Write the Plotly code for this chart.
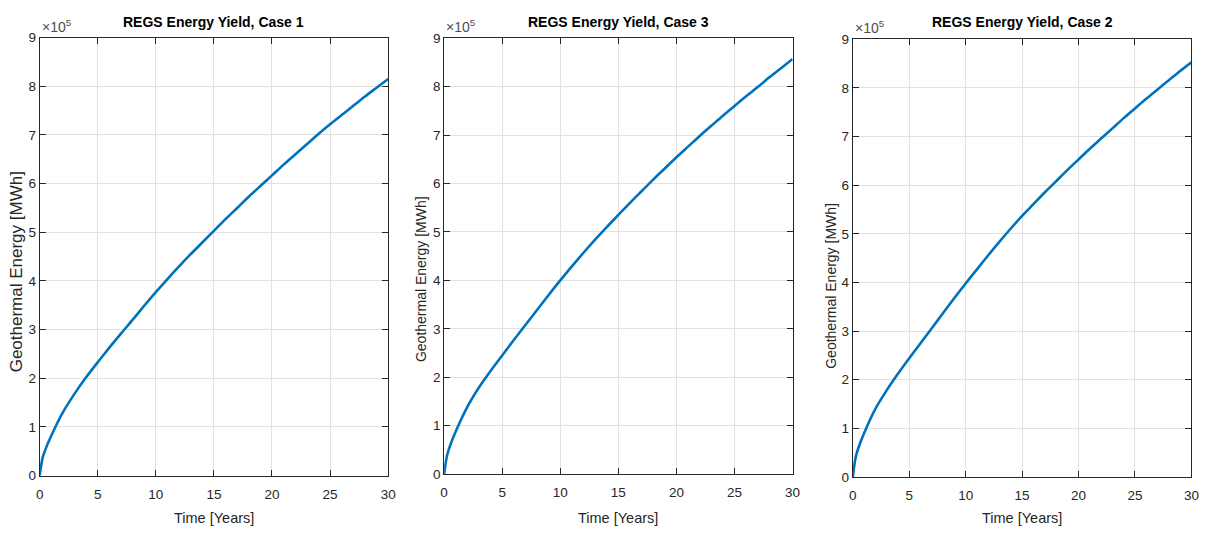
import plotly.graph_objects as go

# Time [years] and energy [x1e5 MWh]
t_years = [0, 0.25, 0.5, 1, 2, 3, 4, 5, 6, 7, 8, 9, 10, 11, 12, 13, 14, 15, 16, 17, 18, 19, 20,
           21, 22, 23, 24, 25, 26, 27, 28, 29, 30]
e_case1 = [0, 0.36, 0.54, 0.82, 1.30, 1.68, 2.02, 2.33, 2.63, 2.92, 3.20, 3.49, 3.77, 4.04, 4.30, 4.55,
           4.79, 5.03, 5.27, 5.50, 5.73, 5.95, 6.17, 6.39, 6.60, 6.81, 7.02, 7.22, 7.41, 7.60, 7.79, 7.97, 8.15]
e_case3 = [0, 0.38, 0.58, 0.88, 1.39, 1.79, 2.13, 2.45, 2.77, 3.08, 3.39, 3.70, 4.00, 4.29, 4.57, 4.84,
           5.10, 5.35, 5.60, 5.84, 6.08, 6.31, 6.54, 6.76, 6.98, 7.19, 7.40, 7.60, 7.80, 7.99, 8.19, 8.38, 8.57]
e_case2 = [0, 0.40, 0.60, 0.90, 1.40, 1.78, 2.12, 2.44, 2.75, 3.06, 3.37, 3.68, 3.98, 4.27, 4.56, 4.84,
           5.11, 5.37, 5.61, 5.85, 6.08, 6.31, 6.53, 6.75, 6.96, 7.17, 7.38, 7.58, 7.78, 7.97, 8.16, 8.35, 8.53]
SCALE = 1e5  # the axis shows x10^5

titles = ["REGS Energy Yield, Case 1", "REGS Energy Yield, Case 3", "REGS Energy Yield, Case 2"]
x_ticks = [0, 5, 10, 15, 20, 25, 30]
y_ticks = [0, 1, 2, 3, 4, 5, 6, 7, 8, 9]
y_tick_text = ["0", "1", "2", "3", "4", "5", "6", "7", "8", "9"]
x_title = "Time [Years]"
y_title = "Geothermal Energy [MWh]"

W, H = 1210, 542
# plot-area pixel boxes (left, right, top, bottom)
boxes = [(36, 388, 31.5, 482), (444.5, 796.5, 32, 480.5), (857.3, 1199.3, 33.3, 483.3)]
# y-title placement (center x, center y, font size)
ytitle_pos = [(13, 272, 17), (421, 280, 14), (835, 287, 14)]


def px(x):
    return x / W


def py(y):
    return 1 - y / H


FONT = "Liberation Sans, Arial, Helvetica, sans-serif"
LINE = "#0072BD"
AX = "#262626"
GRID = "#e1e1e1"

fig = go.Figure()
series = [e_case1, e_case3, e_case2]
annotations = []
for i, (ey, (l, r, tp, bt)) in enumerate(zip(series, boxes)):
    sfx = "" if i == 0 else str(i + 1)
    fig.add_trace(go.Scatter(x=t_years, y=[v * SCALE for v in ey], mode="lines",
                             xaxis="x" + sfx, yaxis="y" + sfx,
                             line=dict(color=LINE, width=2.6, shape="spline", smoothing=0.8),
                             showlegend=False, hoverinfo="skip"))
    common = dict(showline=True, linecolor=AX, linewidth=1, mirror="ticks", ticks="inside",
                  ticklen=6, tickcolor=AX, tickwidth=1, showgrid=True, gridcolor=GRID, gridwidth=1,
                  zeroline=False, tickfont=dict(family=FONT, size=13.5, color=AX))
    fig.update_layout(**{
        "xaxis" + sfx: dict(domain=[px(l), px(r)], range=[0, 30], tickvals=x_ticks, anchor="y" + sfx,
                            ticklabelstandoff=6, **common),
        "yaxis" + sfx: dict(domain=[py(bt), py(tp)], range=[0, 9 * SCALE], tickvals=[v * SCALE for v in y_ticks],
                            ticktext=y_tick_text, anchor="x" + sfx, ticklabelstandoff=0, **common),
    })
    cx = (l + r) / 2
    annotations.append(dict(text="<b>" + titles[i] + "</b>", x=px(cx), y=py(15), xref="paper", yref="paper",
                            showarrow=False, font=dict(family=FONT, size=14, color="#000000"),
                            xanchor="center", yanchor="middle"))
    annotations.append(dict(text="×10<sup>5</sup>", x=px(l), y=py(tp - 1), xref="paper", yref="paper",
                            showarrow=False, font=dict(family=FONT, size=14, color="#4d4d4d"),
                            xanchor="left", yanchor="bottom"))
    annotations.append(dict(text=x_title, x=px(cx), y=py(526), xref="paper", yref="paper",
                            showarrow=False, font=dict(family=FONT, size=14.5, color=AX),
                            xanchor="center", yanchor="middle"))
    yx, yy, ys = ytitle_pos[i]
    annotations.append(dict(text=y_title, x=px(yx), y=py(yy), xref="paper", yref="paper",
                            showarrow=False, textangle=-90, font=dict(family=FONT, size=ys, color=AX),
                            xanchor="center", yanchor="middle"))

fig.update_layout(width=W, height=H, margin=dict(l=0, r=0, t=0, b=0),
                  paper_bgcolor="white", plot_bgcolor="white", annotations=annotations)
fig.write_html("out.html")
